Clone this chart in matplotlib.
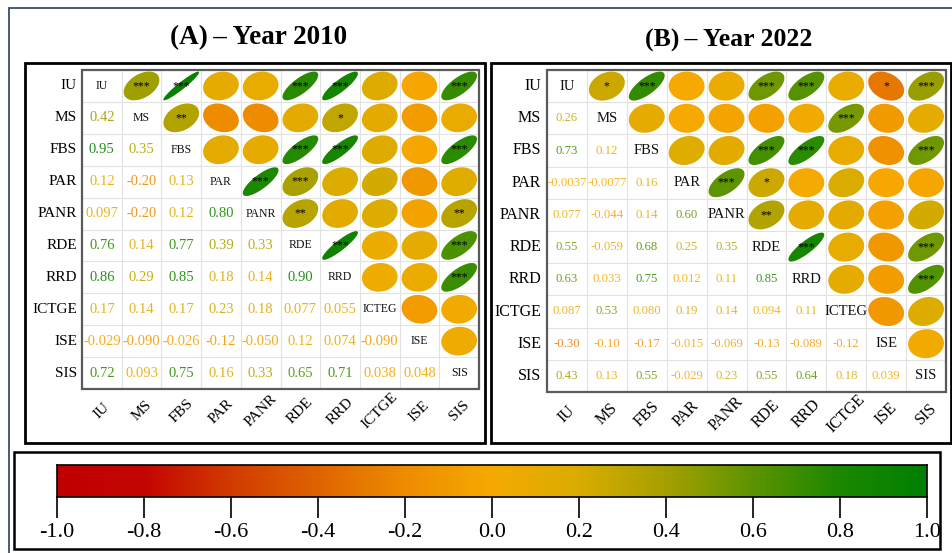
import numpy as np
import matplotlib
matplotlib.use("Agg")
import matplotlib.pyplot as plt
from matplotlib.colors import LinearSegmentedColormap
from matplotlib.patches import Rectangle, Polygon

plt.rcParams['font.family'] = ['Liberation Serif', 'DejaVu Serif']

# ---- data ---------------------------------------------------------------
row_labels = ["IU", "MS", "FBS", "PAR", "PANR", "RDE", "RRD", "ICTGE", "ISE", "SIS"]
diag_labels = ["IU", "MS", "FBS", "PAR", "PANR", "RDE", "RRD", "ICTEG", "ISE", "SIS"]

# lower-triangle correlations, row by row (row i holds columns 0..i-1)
corr_2010 = [
    [],
    [0.42],
    [0.95, 0.35],
    [0.12, -0.20, 0.13],
    [0.097, -0.20, 0.12, 0.80],
    [0.76, 0.14, 0.77, 0.39, 0.33],
    [0.86, 0.29, 0.85, 0.18, 0.14, 0.90],
    [0.17, 0.14, 0.17, 0.23, 0.18, 0.077, 0.055],
    [-0.029, -0.090, -0.026, -0.12, -0.050, 0.12, 0.074, -0.090],
    [0.72, 0.093, 0.75, 0.16, 0.33, 0.65, 0.71, 0.038, 0.048],
]
corr_2022 = [
    [],
    [0.26],
    [0.73, 0.12],
    [-0.0037, -0.0077, 0.16],
    [0.077, -0.044, 0.14, 0.60],
    [0.55, -0.059, 0.68, 0.25, 0.35],
    [0.63, 0.033, 0.75, 0.012, 0.11, 0.85],
    [0.087, 0.53, 0.080, 0.19, 0.14, 0.094, 0.11],
    [-0.30, -0.10, -0.17, -0.015, -0.069, -0.13, -0.089, -0.12],
    [0.43, 0.13, 0.55, -0.029, 0.23, 0.55, 0.64, 0.18, 0.039],
]
# significance stars, upper triangle, row by row (row i holds columns i+1..9)
stars_2010 = [
    ["***", "***", "", "", "***", "***", "", "", "***"],
    ["**", "", "", "", "*", "", "", ""],
    ["", "", "***", "***", "", "", "***"],
    ["***", "***", "", "", "", ""],
    ["**", "", "", "", "**"],
    ["***", "", "", "***"],
    ["", "", "***"],
    ["", ""],
    [""],
    [],
]
stars_2022 = [
    ["*", "***", "", "", "***", "***", "", "*", "***"],
    ["", "", "", "", "", "***", "", ""],
    ["", "", "***", "***", "", "", "***"],
    ["***", "*", "", "", "", ""],
    ["**", "", "", "", ""],
    ["***", "", "", "***"],
    ["", "", "***"],
    ["", ""],
    [""],
    [],
]
cbar_ticks = [-1.0, -0.8, -0.6, -0.4, -0.2, 0.0, 0.2, 0.4, 0.6, 0.8, 1.0]

# ---- colour scale -------------------------------------------------------
cmap = LinearSegmentedColormap.from_list("corr", [
    (0.00, "#C00000"), (0.10, "#C40600"), (0.20, "#D23C00"),
    (0.30, "#DF6400"), (0.40, "#EE8C00"), (0.50, "#F6AA00"),
    (0.60, "#DAAC00"), (0.70, "#A6A000"), (0.80, "#5E9400"),
    (0.90, "#1D8800"), (1.00, "#007F00")])


def col(r):
    return cmap((r + 1) / 2)


def fmt(r):
    # two significant digits, trailing zeros kept
    return "%#.2g" % r


W, H = 953, 553
fig = plt.figure(figsize=(W / 100, H / 100), dpi=100)


def frac(l, t, r, b):
    return [l / W, 1 - b / H, (r - l) / W, (b - t) / H]


def box(l, t, r, b, lw=2.0, color="black"):
    fig.add_artist(Rectangle((l / W, 1 - b / H), (r - l) / W, (b - t) / H,
                             transform=fig.transFigure, fill=False,
                             lw=lw, edgecolor=color))


# outer frame
box(9, 8, 990, 600, lw=1.3, color="#34506E")


def ellipse_pts(r, scale=0.45, n=100):
    k = np.linspace(0, 2 * np.pi, n)
    d = np.arccos(r) / 2
    return np.column_stack([scale * np.cos(k + d), scale * np.cos(k - d)])


def panel(grid, corr, stars, num_size, diag_size, num_alpha):
    ax = fig.add_axes(frac(*grid))
    n = len(row_labels)
    ax.set_xlim(0, n)
    ax.set_ylim(n, 0)
    for s in ax.spines.values():
        s.set_visible(False)
    ax.set_xticks([])
    ax.set_yticks([])
    # cell grid
    for k in range(1, n):
        ax.axhline(k, color="#E2E2E2", lw=0.8, zorder=0)
        ax.axvline(k, color="#E2E2E2", lw=0.8, zorder=0)
    ax.add_patch(Rectangle((0, 0), n, n, fill=False, lw=1.6,
                           edgecolor="#5A5A5A", zorder=5, clip_on=False))
    for i in range(n):
        ax.text(i + 0.5, i + 0.5, diag_labels[i], ha="center", va="center",
                fontsize=diag_size, color="#111111")
        for j, r in enumerate(corr[i]):
            # lower triangle: value
            ax.text(j + 0.5, i + 0.5, fmt(r), ha="center", va="center",
                    fontsize=num_size, color=col(r), alpha=num_alpha)
            # upper triangle: ellipse (mirror)
            p = ellipse_pts(r)
            p[:, 0] = p[:, 0] + i + 0.5
            p[:, 1] = -p[:, 1] + j + 0.5
            ax.add_patch(Polygon(p, closed=True, facecolor=col(r),
                                 edgecolor="none", zorder=2))
        for m, s in enumerate(stars[i]):
            j = i + 1 + m
            if s:
                ax.text(j + 0.5, i + 0.5, s, ha="center", va="center",
                        fontsize=8.5, color="black", zorder=3)
    return ax


def labels(grid, xoff, ysize):
    l, t, r, b = grid
    cw = (r - l) / 10
    ch = (b - t) / 10
    for i, name in enumerate(row_labels):
        fig.text((l - xoff) / W, 1 - (t + (i + 0.5) * ch) / H, name,
                 ha="right", va="center", fontsize=ysize)
        fig.text((l + (i + 0.5) * cw) / W, 1 - (b + 22) / H, name,
                 ha="center", va="center", rotation=45, fontsize=ysize)


gridA = (82, 70, 479, 389)
gridB = (547, 70, 946, 392)

box(25, 63, 485, 443)
box(491, 63, 951, 443)

panel(gridA, corr_2010, stars_2010, num_size=10.5, diag_size=8.5, num_alpha=0.9)
panel(gridB, corr_2022, stars_2022, num_size=9.2, diag_size=10.5, num_alpha=0.85)
labels(gridA, 5, 11)
labels(gridB, 6, 11.5)

fig.text(259 / W, 1 - 38 / H, "(A)\u2009\u2013 Year 2010", ha="center", va="center",
         fontsize=19.5, fontweight="bold")
fig.text(729 / W, 1 - 40 / H, "(B)\u2009\u2013 Year 2022", ha="center", va="center",
         fontsize=18.5, fontweight="bold")

# colour bar
box(14, 452, 940, 549, lw=1.8)
cax = fig.add_axes(frac(57, 465, 927, 497))
grad = np.linspace(-1, 1, 400)[None, :]
cax.imshow(grad, aspect="auto", cmap=cmap, vmin=-1, vmax=1,
           extent=[-1, 1, 0, 1])
cax.set_xlim(-1, 1)
cax.set_yticks([])
cax.set_xticks(cbar_ticks)
cax.set_xticklabels([f"{v:.1f}" for v in cbar_ticks], fontsize=16)
cax.tick_params(axis="x", length=15, width=1.2, pad=4)
for s in cax.spines.values():
    s.set_linewidth(1.2)

fig.savefig("out.png", dpi=100)
